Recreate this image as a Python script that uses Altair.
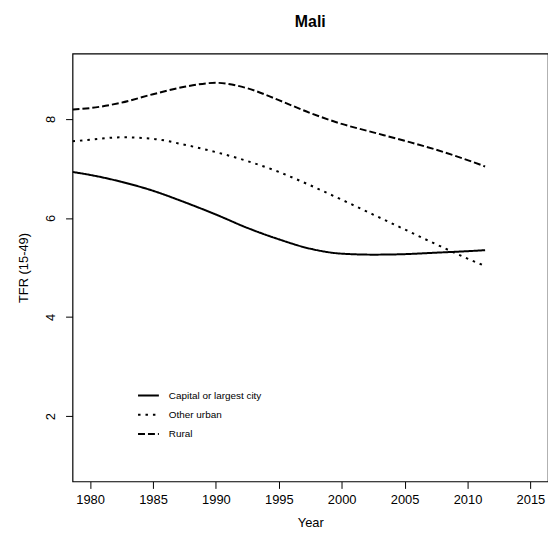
import altair as alt
import pandas as pd

years = [1978.6, 1980, 1982.5, 1985, 1987.5, 1990, 1992.5, 1995, 1997.5,
         2000, 2002.5, 2005, 2007.5, 2010, 2011.4]
capital = [6.93, 6.87, 6.73, 6.55, 6.32, 6.07, 5.80, 5.57, 5.38,
           5.28, 5.26, 5.27, 5.30, 5.33, 5.35]
other_urban = [7.55, 7.58, 7.63, 7.60, 7.48, 7.33, 7.15, 6.93, 6.66,
               6.37, 6.07, 5.77, 5.47, 5.18, 5.03]
rural = [8.19, 8.22, 8.33, 8.50, 8.65, 8.73, 8.62, 8.38, 8.12,
         7.90, 7.73, 7.56, 7.38, 7.17, 7.04]
series_names = ["Capital or largest city", "Other urban", "Rural"]
x_ticks = [1980, 1985, 1990, 1995, 2000, 2005, 2010, 2015]
y_ticks = [2, 4, 6, 8]

rows = []
for name, vals in zip(series_names, [capital, other_urban, rural]):
    for yr, v in zip(years, vals):
        rows.append({"Year": yr, "TFR": v, "Series": name})
df = pd.DataFrame(rows)

font = "Liberation Sans"

chart = alt.Chart(df).mark_line(
    color="black", strokeWidth=2, interpolate="monotone", clip=True
).encode(
    x=alt.X("Year:Q",
            scale=alt.Scale(domain=[1978.6, 2016.4], nice=False, zero=False),
            axis=alt.Axis(values=x_ticks, format="d", title="Year", grid=False,
                          domain=False, tickSize=7, tickColor="black",
                          labelFontSize=13, labelFont=font, labelColor="black",
                          labelPadding=5, titleFont=font, titleFontSize=13,
                          titleFontWeight="normal", titleColor="black",
                          titlePadding=10, labelFlush=False)),
    y=alt.Y("TFR:Q",
            scale=alt.Scale(domain=[0.68, 9.32], nice=False, zero=False),
            axis=alt.Axis(values=y_ticks, title="TFR (15-49)", grid=False,
                          domain=False, tickSize=7, tickColor="black",
                          labelFontSize=13, labelFont=font, labelColor="black",
                          labelAngle=-90, labelAlign="center", labelBaseline="bottom",
                          labelPadding=8, titleFont=font, titleFontSize=13,
                          titleFontWeight="normal", titleColor="black",
                          titlePadding=14, labelFlush=False)),
    strokeDash=alt.StrokeDash("Series:N",
                              scale=alt.Scale(domain=series_names,
                                              range=[[1, 0], [2.5, 5], [7, 3]]),
                              legend=alt.Legend(title=None, orient="none",
                                                legendX=65, legendY=333,
                                                symbolType="stroke", symbolSize=441,
                                                symbolStrokeWidth=2,
                                                symbolStrokeColor="black",
                                                labelFont=font, labelFontSize=10,
                                                labelColor="black", labelOffset=9,
                                                rowPadding=2.3, padding=0)),
).properties(
    width=479, height=431,
    title=alt.TitleParams("Mali", font=font, fontSize=16, fontWeight="bold",
                          color="black", offset=24, anchor="middle"),
    padding={"left": 65, "top": 44, "right": 0, "bottom": 50},
    autosize=alt.AutoSizeParams(type="none"),
    background="white",
).configure_view(stroke="black", strokeWidth=1.2)

chart.save("out.html", embed_options={"renderer": "svg", "actions": False})
